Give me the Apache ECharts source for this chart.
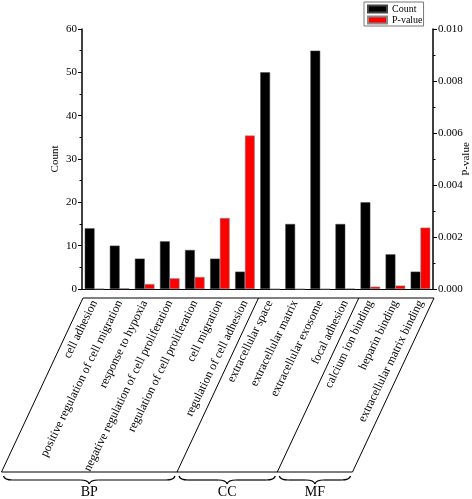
<!DOCTYPE html>
<html><head><meta charset="utf-8">
<script src="https://cdn.jsdelivr.net/npm/echarts@6/dist/echarts.min.js"></script>
<style>html,body{margin:0;padding:0;background:#fff}#c{width:472px;height:499px}</style>
</head><body><div id="c"></div>
<script>
const categories = ['cell adhesion','positive regulation of cell migration','response to hypoxia','negative regulation of cell proliferation','regulation of cell proliferation','cell migration','regulation of cell adhesion','extracellular space','extracellular matrix','extracellular exosome','focal adhesion','calcium ion binding','heparin binding','extracellular matrix binding'];
const countValues = [14,10,7,11,9,7,4,50,15,55,15,20,8,4];
const pValues = [0.00001,0.00003,0.00019,0.00041,0.00046,0.00273,0.0059,0,0,0,0.00002,0.00009,0.00013,0.00236];
const countTicks = [0,10,20,30,40,50,60];
const pTicks = [0.000,0.002,0.004,0.006,0.008,0.010];
const groupNames = ['BP','CC','MF'];
const groupSizes = [7,4,3];

(function(){
const FONT = 'Liberation Serif';
const chart = echarts.init(document.getElementById('c'), null, {renderer:'canvas'});
const axisCommon = {
  type:'value', nameLocation:'middle', nameRotate:90, nameMoveOverlap:false,
  nameTextStyle:{fontFamily:FONT,fontSize:11,color:'#000'},
  axisLine:{show:true,lineStyle:{color:'#000',width:1.5}},
  axisTick:{show:true,length:4,lineStyle:{color:'#000',width:1}},
  minorTick:{show:true,splitNumber:2,length:2.5,lineStyle:{color:'#000',width:1}},
  splitLine:{show:false},
  axisLabel:{fontFamily:FONT,fontSize:11,color:'#000',margin:5}
};
chart.setOption({
  animation:false,
  backgroundColor:'#fff',
  legend:{
    orient:'vertical', left:364, top:2, itemGap:1, itemWidth:19, itemHeight:7,
    padding:[2,1,1,3], borderColor:'#777', borderWidth:1,
    icon:'rect',
    textStyle:{fontFamily:FONT,fontSize:10,color:'#000',lineHeight:10},
    data:['Count','P-value']
  },
  grid:{left:82,right:39,top:29,bottom:210,containLabel:false,outerBoundsMode:'none'},
  xAxis:{
    type:'category', data:categories,
    axisLine:{lineStyle:{color:'#000',width:1}},
    axisTick:{alignWithLabel:true,length:4,lineStyle:{color:'#000'}},
    axisLabel:{rotate:64,interval:0,margin:12,fontFamily:FONT,fontSize:12,color:'#000'}
  },
  yAxis:[
    Object.assign({}, axisCommon, {name:'Count', nameGap:21, min:countTicks[0], max:countTicks[countTicks.length-1], interval:countTicks[1]-countTicks[0], position:'left'}),
    Object.assign({}, axisCommon, {name:'P-value', nameGap:28, min:pTicks[0], max:pTicks[pTicks.length-1], interval:pTicks[1]-pTicks[0], position:'right',
      axisLabel:Object.assign({}, axisCommon.axisLabel, {formatter:v=>v.toFixed(3)})})
  ],
  series:[
    {name:'Count', type:'bar', yAxisIndex:0, data:countValues, barGap:'0%', barCategoryGap:'22%',
     itemStyle:{color:'#000',borderColor:'#444',borderWidth:0.5}},
    {name:'P-value', type:'bar', yAxisIndex:1, data:pValues, barGap:'0%', barCategoryGap:'22%',
     itemStyle:{color:'#ff0000',borderColor:'#888',borderWidth:0.5}}
  ]
});

const c0 = chart.convertToPixel({xAxisIndex:0}, categories[0]);
const c1 = chart.convertToPixel({xAxisIndex:0}, categories[1]);
const bw = c1 - c0;
const yBase = chart.convertToPixel({yAxisIndex:0}, 0);
const yTop = yBase + 9, yBot = 472, shift = 81.5;
const bounds = [c0 - bw/2 + 1];
let acc = 0;
groupSizes.forEach(s => { acc += s; bounds.push(c0 - bw/2 + acc*bw + 1); });
const g = [];
const ls = {stroke:'#000', lineWidth:1, fill:null};
g.push({type:'polygon', shape:{points:[[bounds[0],yTop],[bounds[3],yTop],[bounds[3]-shift,yBot],[bounds[0]-shift,yBot]]}, style:ls});
for (let k=1;k<bounds.length-1;k++){
  g.push({type:'line', shape:{x1:bounds[k],y1:yTop,x2:bounds[k]-shift,y2:yBot}, style:ls});
}
const bs = {stroke:'#000', lineWidth:1.2, fill:null};
for (let k=0;k<groupNames.length;k++){
  const xa = bounds[k]-shift+2, xb = bounds[k+1]-shift-2, xc=(xa+xb)/2;
  const yt=476, ym=480, yb=484, q=9;
  g.push({type:'bezierCurve', shape:{x1:xa,y1:yt,cpx1:xa+1,cpy1:ym,x2:xa+q,y2:ym}, style:bs});
  g.push({type:'line', shape:{x1:xa+q,y1:ym,x2:xc-q,y2:ym}, style:bs});
  g.push({type:'bezierCurve', shape:{x1:xc-q,y1:ym,cpx1:xc-1,cpy1:ym,x2:xc,y2:yb}, style:bs});
  g.push({type:'bezierCurve', shape:{x1:xc,y1:yb,cpx1:xc+1,cpy1:ym,x2:xc+q,y2:ym}, style:bs});
  g.push({type:'line', shape:{x1:xc+q,y1:ym,x2:xb-q,y2:ym}, style:bs});
  g.push({type:'bezierCurve', shape:{x1:xb-q,y1:ym,cpx1:xb-1,cpy1:ym,x2:xb,y2:yt}, style:bs});
  g.push({type:'text', x:xc, y:492, style:{text:groupNames[k], fontFamily:FONT, fontSize:14, fill:'#000', align:'center', verticalAlign:'middle'}});
}
chart.setOption({graphic:g});
})();
</script></body></html>
